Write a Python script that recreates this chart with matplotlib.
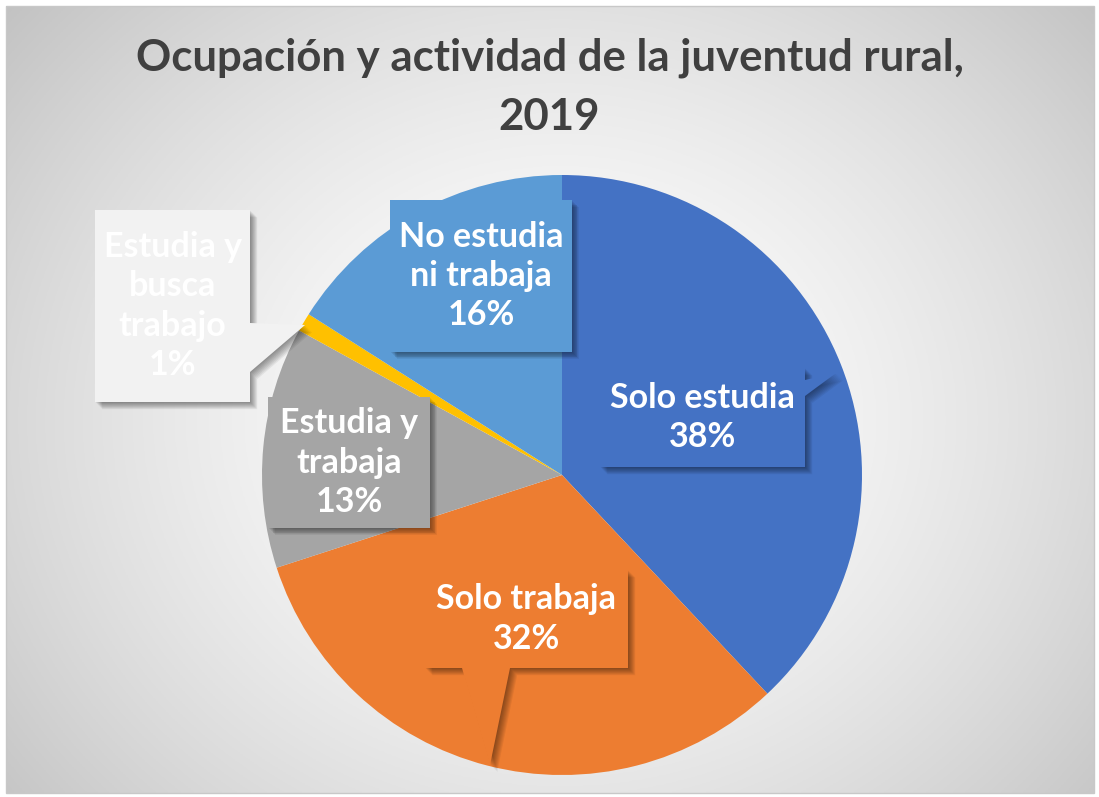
import matplotlib.pyplot as plt
import numpy as np
from matplotlib.patches import Polygon, Rectangle

categorias = ['Solo estudia', 'Solo trabaja', 'Estudia y\ntrabaja',
              'Estudia y\nbusca\ntrabajo', 'No estudia\nni trabaja']
porcentajes = [38, 32, 13, 1, 16]
colores = ['#4472C4', '#ED7D31', '#A5A5A5', '#FFC000', '#5B9BD5']
titulo = 'Ocupación y actividad de la juventud rural,\n2019'

W, H = 1099, 797
fig = plt.figure(figsize=(W / 100, H / 100), dpi=100)
ax = fig.add_axes([0, 0, 1, 1])

# fondo con degradado radial
xx, yy = np.meshgrid(np.linspace(0, W, 400), np.linspace(0, H, 300))
d = np.hypot((xx - 560) / 660, (yy - (H - 420)) / 580)
g = np.clip(1 - 0.2 * d ** 1.6, 0, 1)
ax.imshow(np.dstack([g, g, g]), extent=(6, W - 5, 4, H - 6), origin='lower',
          zorder=0, aspect='auto')
ax.add_patch(Rectangle((6, 4), W - 11, H - 10, fill=False, ec='#c8c8c8', lw=1, zorder=1))

cx, cy, r = 562, H - 475, 300
wedges, _ = ax.pie(porcentajes, colors=colores, startangle=90, counterclock=False,
                   center=(cx, cy), radius=r, frame=True,
                   wedgeprops=dict(linewidth=0, zorder=2))
ax.set_xlim(0, W)
ax.set_ylim(0, H)
ax.set_aspect('equal')
ax.axis('off')

fig.text(0.5, 1 - 87 / H, titulo, ha='center', va='center', fontsize=31.5,
         fontweight='bold', color='#404040', family='Lato', linespacing=1.58)

# cajas de etiqueta (x0, y0, x1, y1 en pixeles de imagen) y puntero opcional
cajas = [
    ((600, 368, 805, 467), ('r', [(805, 380), (836, 373), (805, 396)]), '#4472C4'),
    ((425, 570, 628, 668), ('b', [(510, 668), (490, 765), (462, 668)]), '#ED7D31'),
    ((268, 397, 430, 528), None, '#A5A5A5'),
    ((95, 210, 250, 402), ('r', [(250, 323), (305, 325), (250, 372)]), '#F2F2F2'),
    ((390, 200, 572, 352), None, '#5B9BD5'),
]

for i, ((x0, y0, x1, y1), ptr, col) in enumerate(cajas):
    pts = [(x0, y0), (x1, y0)]
    if ptr and ptr[0] == 'r':
        pts += ptr[1]
    pts += [(x1, y1)]
    if ptr and ptr[0] == 'b':
        pts += ptr[1]
    pts += [(x0, y1)]
    pts = [(px, H - py) for px, py in pts]
    for k in range(1, 9):
        sombra = [(px + k * 0.9, py - k * 0.9) for px, py in pts]
        ax.add_patch(Polygon(sombra, closed=True, fc='black', alpha=0.06,
                             lw=0, zorder=3 + i * 2))
    ax.add_patch(Polygon(pts, closed=True, fc=col, lw=0, zorder=4 + i * 2))
    texto = f'{categorias[i]}\n{porcentajes[i]}%'
    ax.text((x0 + x1) / 2, H - (y0 + y1) / 2, texto, ha='center', va='center',
            fontsize=24.5, fontweight='bold', color='white', family='Lato',
            linespacing=1.27, zorder=5 + i * 2)

fig.savefig('out.png', dpi=100)
